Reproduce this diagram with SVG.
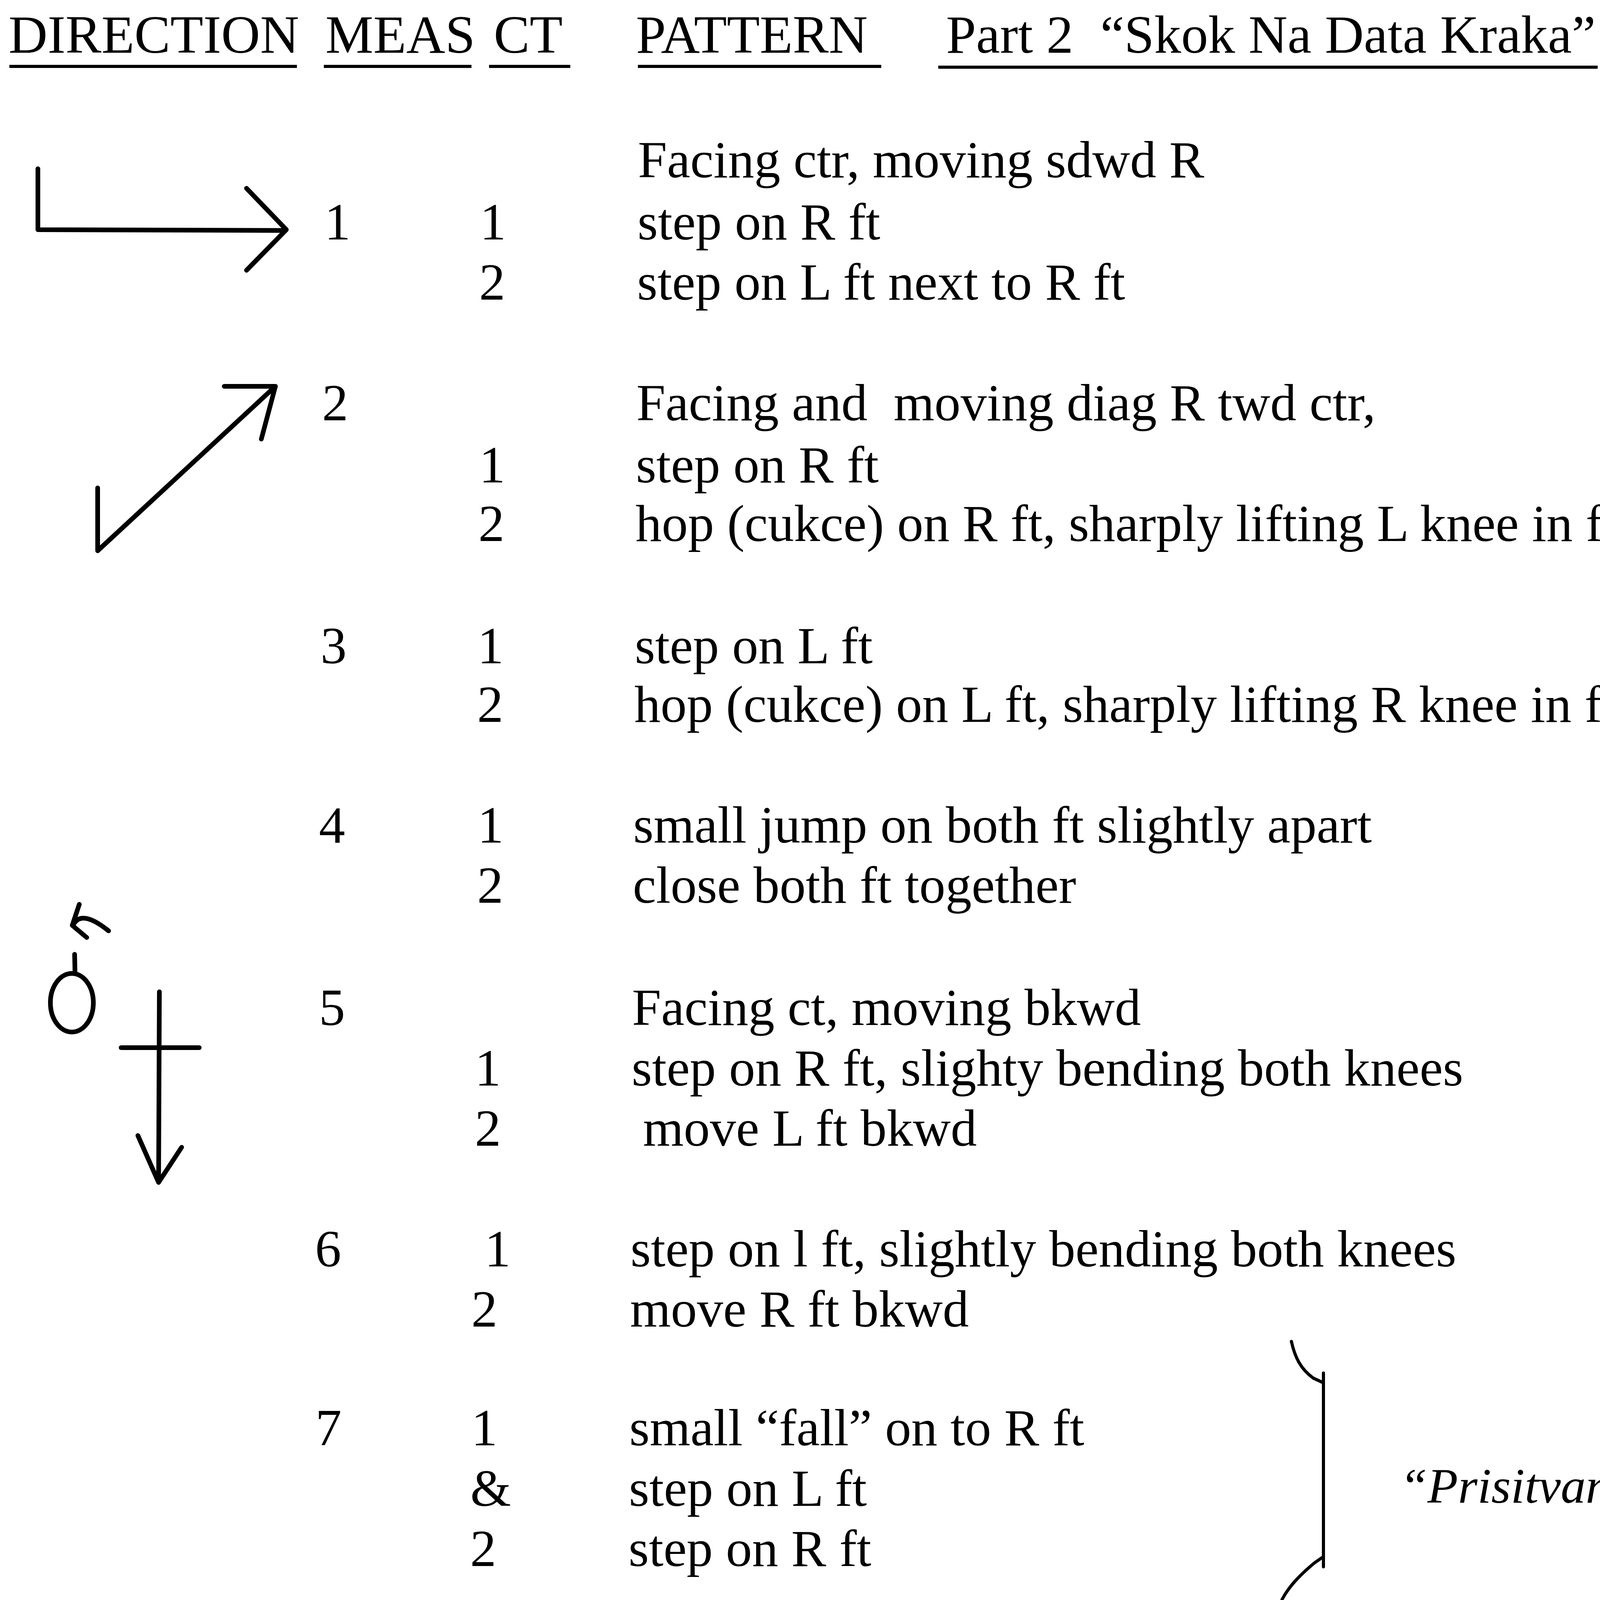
<svg xmlns="http://www.w3.org/2000/svg" width="4650" height="7114" viewBox="0 0 4650 7114">
<style>
.t{font-family:"Liberation Serif","Times New Roman",serif;font-size:134px;fill:#000;white-space:pre}
.h{font-size:138px}
.m{text-anchor:middle}
.i{font-style:italic;font-size:128px}
.s{fill:none;stroke:#000;stroke-width:12;stroke-linecap:round;stroke-linejoin:round}
.b{fill:none;stroke:#000;stroke-width:8;stroke-linecap:round;stroke-linejoin:round}
.u{stroke:#000;stroke-width:8}
</style>
<rect width="4650" height="7114" fill="#fff"/>
<g id="header">
<text class="t h" x="22" y="135">DIRECTION</text>
<text class="t h" x="833" y="135">MEAS</text>
<text class="t h" x="1264" y="135">CT</text>
<text class="t h" x="1628" y="135">PATTERN</text>
<text class="t h" x="2422" y="135">Part 2  “Skok Na Data Kraka”</text>
<line class="u" x1="24" y1="170" x2="760" y2="170"/>
<line class="u" x1="829" y1="170" x2="1207" y2="170"/>
<line class="u" x1="1252" y1="170" x2="1460" y2="170"/>
<line class="u" x1="1633" y1="170" x2="2256" y2="170"/>
<line class="u" x1="2402" y1="172" x2="4090" y2="172"/>
</g>
<g id="p2-m1">
<text class="t" x="1633" y="454">Facing ctr, moving sdwd R</text>
<text class="t m" x="864" y="613">1</text>
<text class="t m" x="1262" y="613">1</text>
<text class="t" x="1632" y="613">step on R ft</text>
<text class="t m" x="1260" y="767">2</text>
<text class="t" x="1631" y="767">step on L ft next to R ft</text>
</g>
<g id="p2-m2">
<text class="t m" x="858" y="1076">2</text>
<text class="t" x="1629" y="1076">Facing and  moving diag R twd ctr,</text>
<text class="t m" x="1260" y="1235">1</text>
<text class="t" x="1628" y="1235">step on R ft</text>
<text class="t m" x="1258" y="1385">2</text>
<text class="t" x="1627" y="1385">hop (cukce) on R ft, sharply lifting L knee in front</text>
<text class="t" x="4436" y="1385">fwd</text>
</g>
<g id="p2-m3">
<text class="t m" x="854" y="1698">3</text>
<text class="t m" x="1256" y="1698">1</text>
<text class="t" x="1625" y="1698">step on L ft</text>
<text class="t m" x="1255" y="1848">2</text>
<text class="t" x="1624" y="1848">hop (cukce) on L ft, sharply lifting R knee in front</text>
</g>
<g id="p2-m4">
<text class="t m" x="850" y="2157">4</text>
<text class="t m" x="1256" y="2157">1</text>
<text class="t" x="1621" y="2157">small jump on both ft slightly apart</text>
<text class="t m" x="1255" y="2311">2</text>
<text class="t" x="1620" y="2311">close both ft together</text>
</g>
<g id="p2-m5">
<text class="t m" x="850" y="2624">5</text>
<text class="t" x="1618" y="2624">Facing ct, moving bkwd</text>
<text class="t m" x="1249" y="2779">1</text>
<text class="t" x="1617" y="2779">step on R ft, slighty bending both knees</text>
<text class="t m" x="1249" y="2933">2</text>
<text class="t" x="1646" y="2933">move L ft bkwd</text>
</g>
<g id="p2-m6">
<text class="t m" x="840" y="3242">6</text>
<text class="t m" x="1274" y="3242">1</text>
<text class="t" x="1614" y="3242">step on l ft, slightly bending both knees</text>
<text class="t m" x="1240" y="3396">2</text>
<text class="t" x="1613" y="3396">move R ft bkwd</text>
</g>
<g id="p2-m7">
<text class="t m" x="841" y="3700">7</text>
<text class="t m" x="1240" y="3700">1</text>
<text class="t" x="1611" y="3700">small “fall” on to R ft</text>
<text class="t m" x="1256" y="3855">&amp;</text>
<text class="t" x="1610" y="3855">step on L ft</text>
<text class="t m" x="1237" y="4009">2</text>
<text class="t" x="1609" y="4009">step on R ft</text>
</g>
<g id="p2-m8">
<text class="t m" x="834" y="4318">8</text>
<text class="t m" x="1234" y="4318">1</text>
<text class="t" x="1607" y="4318">step on L ft sdwd L</text>
<text class="t m" x="1228" y="4472">2</text>
<text class="t" x="1606" y="4472">shifting wt to R ft (balance)</text>
</g>
<g id="p3-title">
<text class="t" x="1598" y="4932">Part 3 “ Drobinkov Hod”</text>
</g>
<g id="p3-m1">
<text class="t" x="1600" y="5240">Facing and moving twd ctr,</text>
<text class="t m" x="827" y="5398">1</text>
<text class="t m" x="1244" y="5398">&amp;</text>
<text class="t" x="1599" y="5398">scuff R (drobinka)</text>
<text class="t m" x="1222" y="5553">1</text>
<text class="t" x="1598" y="5553">step on R ft</text>
<text class="t m" x="1240" y="5707">&amp;</text>
<text class="t" x="1597" y="5707">scuff L ft (drobinka)</text>
<text class="t m" x="1222" y="5861">2</text>
<text class="t" x="1596" y="5861">step on L ft</text>
</g>
<g id="p3-m2">
<text class="t m" x="820" y="6172">2</text>
<text class="t m" x="1252" y="6172">1</text>
<text class="t" x="1594" y="6172">step on R sdwd R</text>
<text class="t m" x="1238" y="6327">&amp;</text>
<text class="t" x="1593" y="6327">step on L ft across behind R ft</text>
<text class="t m" x="1219" y="6481">2</text>
<text class="t" x="1592" y="6481">step on R sdwd R</text>
</g>
<g id="p3-m3">
<text class="t m" x="811" y="6795">3</text>
<text class="t m" x="1250" y="6795">1</text>
<text class="t" x="1590" y="6795">step on L sdwd L</text>
<text class="t m" x="1238" y="6949">&amp;</text>
<text class="t" x="1589" y="6949">step on R  ft across behind L ft</text>
<text class="t m" x="1212" y="7098">3</text>
<text class="t" x="1588" y="7098">step on L sdwd L</text>
</g>
<g id="braces">
<g id="brace-prisitvane">
<path class="b" d="M3306,3434 C3315,3475 3330,3505 3362,3528 L3388,3540"/>
<path class="b" d="M3388,3515 L3388,4011"/>
<path class="b" d="M3388,3985 L3365,4001 C3330,4030 3300,4060 3282,4095"/>
<text class="t i" x="3583" y="3847">“Prisitvane”</text>
<path class="s" d="M4115,3715 L4144,3765"/>
</g>
<g id="brace-drobinkov">
<path class="b" d="M3301,5179 C3310,5230 3350,5265 3389,5288"/>
<path class="b" d="M3389,5288 L3389,5803"/>
<path class="b" d="M3389,5776 C3350,5787 3315,5820 3306,5863"/>
<text class="t i" x="3591" y="5539">“Drobinkov Hod”</text>
</g>
</g>
<g id="connectors">
<g id="dir-p2-m1">
<path class="s" d="M97,432 L97,588 L731,590"/>
<path class="s" d="M631,482 L733,588 L631,692"/>
</g>
<g id="dir-p2-m2">
<path class="s" d="M250,1249 L250,1410 L705,989"/>
<path class="s" d="M574,989 L705,989 L669,1124"/>
</g>
<g id="dir-p2-m5">
<path class="s" d="M278,2383 Q207,2326 187,2369"/>
<path class="s" d="M203,2315 L185,2369 L222,2400"/>
<path class="s" d="M191,2443 L192,2490"/>
<ellipse class="s" cx="184" cy="2567" rx="55" ry="75"/>
<path class="s" d="M408,2539 L406,3025"/>
<path class="s" d="M310,2682 L510,2682"/>
<path class="s" d="M353,2907 L406,3027 L465,2937"/>
</g>
<g id="dir-p2-m8">
<path class="s" d="M36,4295 L626,4295 L626,4169"/>
<path class="s" d="M149,4187 L36,4295 L143,4376"/>
</g>
<g id="dir-p3-m1">
<path class="s" d="M365,5182 L356,5800"/>
<path class="s" d="M241,5799 L449,5803"/>
<path class="s" d="M296,5283 L365,5182 L415,5288"/>
</g>
<g id="dir-p3-m2">
<path class="s" d="M237,6268 L233,6562 L562,6158"/>
<path class="s" d="M423,6204 L562,6158 L521,6297"/>
</g>
<g id="dir-p3-m3">
<path class="s" d="M530,6830 L530,7093 L195,6795"/>
<path class="s" d="M300,6800 L195,6795 L232,6942"/>
</g>
</g>
</svg>
